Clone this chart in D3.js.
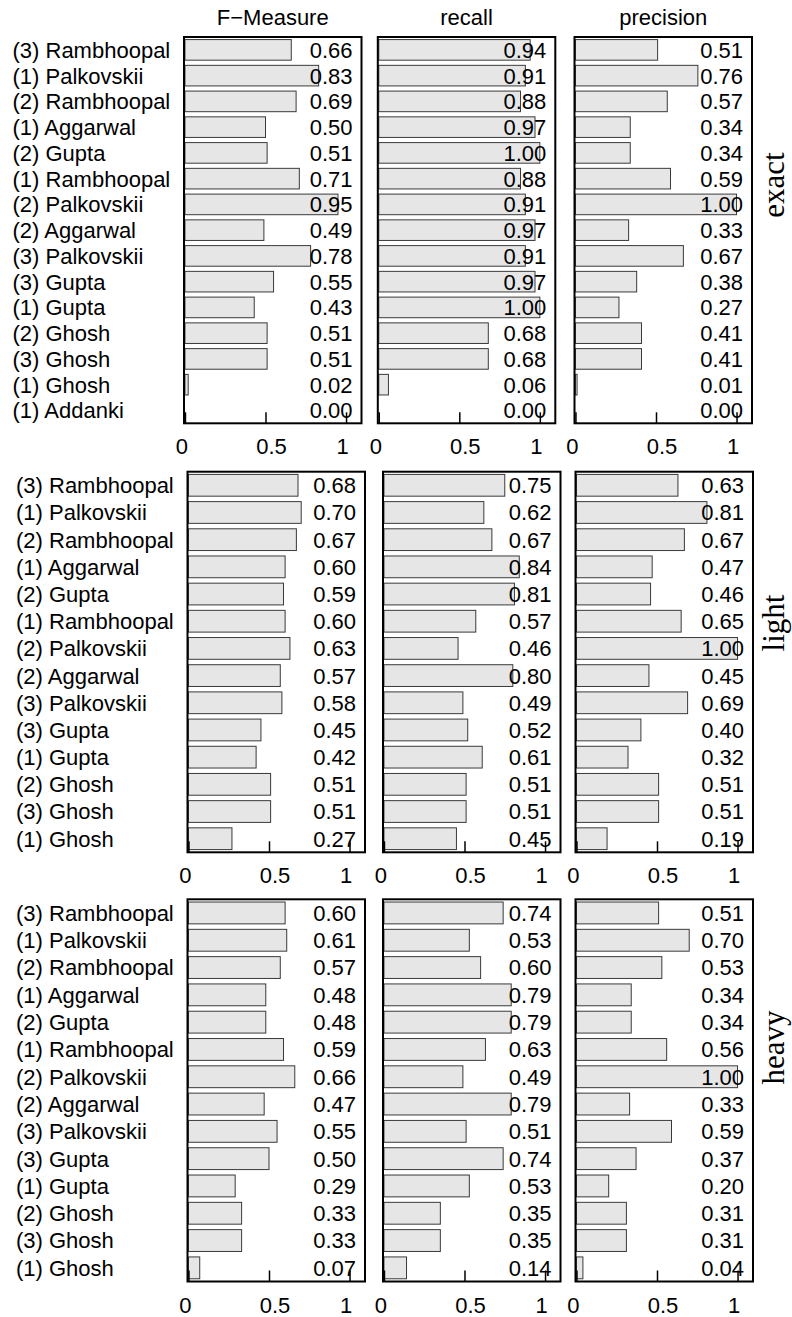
<!DOCTYPE html>
<html><head><meta charset="utf-8">
<script src="https://cdn.jsdelivr.net/npm/d3@7"></script>
<style>body{margin:0;background:#fff} svg{display:block}</style>
</head><body><svg id="chart" width="792" height="1317"></svg>
<script>
// ---------- data ----------
const measures = ["F\u2212Measure", "recall", "precision"];
const levels = ["exact", "light", "heavy"];

const catsExact = ["(3) Rambhoopal","(1) Palkovskii","(2) Rambhoopal","(1) Aggarwal","(2) Gupta",
  "(1) Rambhoopal","(2) Palkovskii","(2) Aggarwal","(3) Palkovskii","(3) Gupta","(1) Gupta",
  "(2) Ghosh","(3) Ghosh","(1) Ghosh","(1) Addanki"];
const catsOther = catsExact.slice(0, 14);

const exactF         = [0.66,0.83,0.69,0.50,0.51,0.71,0.95,0.49,0.78,0.55,0.43,0.51,0.51,0.02,0.00];
const exactRecall    = [0.94,0.91,0.88,0.97,1.00,0.88,0.91,0.97,0.91,0.97,1.00,0.68,0.68,0.06,0.00];
const exactPrecision = [0.51,0.76,0.57,0.34,0.34,0.59,1.00,0.33,0.67,0.38,0.27,0.41,0.41,0.01,0.00];

const lightF         = [0.68,0.70,0.67,0.60,0.59,0.60,0.63,0.57,0.58,0.45,0.42,0.51,0.51,0.27];
const lightRecall    = [0.75,0.62,0.67,0.84,0.81,0.57,0.46,0.80,0.49,0.52,0.61,0.51,0.51,0.45];
const lightPrecision = [0.63,0.81,0.67,0.47,0.46,0.65,1.00,0.45,0.69,0.40,0.32,0.51,0.51,0.19];

const heavyF         = [0.60,0.61,0.57,0.48,0.48,0.59,0.66,0.47,0.55,0.50,0.29,0.33,0.33,0.07];
const heavyRecall    = [0.74,0.53,0.60,0.79,0.79,0.63,0.49,0.79,0.51,0.74,0.53,0.35,0.35,0.14];
const heavyPrecision = [0.51,0.70,0.53,0.34,0.34,0.56,1.00,0.33,0.59,0.37,0.20,0.31,0.31,0.04];

const xTicks = [0, 0.5, 1];
const xTickLabels = ["0", "0.5", "1"];

// ---------- assemble ----------
const rowsData = [
  { level: levels[0], cats: catsExact, series: [exactF, exactRecall, exactPrecision] },
  { level: levels[1], cats: catsOther, series: [lightF, lightRecall, lightPrecision] },
  { level: levels[2], cats: catsOther, series: [heavyF, heavyRecall, heavyPrecision] }
];

// ---------- layout ----------
const FONT = "'Liberation Sans', Arial, Helvetica, sans-serif";
const FS = 22;
const panelW = 177.5;
const layout = [
  { top: 37,    bottom: 423.3,  lefts: [184, 377.8, 574.5], stripDy: -45 },
  { top: 471.7, bottom: 852.3,  lefts: [187.5, 383, 575.5], stripDy: -39 },
  { top: 899.3, bottom: 1281.5, lefts: [187.5, 383, 575.5], stripDy: -43 }
];
const labelNudge = { 0: -3.5, 0.5: 5.5, 1: -4 };

const svg = d3.select("#chart");

// column titles
measures.forEach((m, j) => {
  const L = layout[0];
  svg.append("text")
    .attr("x", L.lefts[j] + panelW / 2)
    .attr("y", 25)
    .attr("text-anchor", "middle")
    .attr("font-family", FONT).attr("font-size", FS)
    .text(m);
});

rowsData.forEach((row, i) => {
  const L = layout[i];
  const y = d3.scaleBand().domain(row.cats).range([L.top, L.bottom])
    .paddingInner(0.2).paddingOuter(0.1);

  // category labels
  svg.append("g").selectAll("text").data(row.cats).join("text")
    .attr("x", L.lefts[0] - 171.5)
    .attr("y", d => y(d) + y.bandwidth() / 2)
    .attr("dy", "0.36em")
    .attr("font-family", FONT).attr("font-size", FS)
    .text(d => d);

  row.series.forEach((vals, j) => {
    const x0 = L.lefts[j];
    const x = d3.scaleLinear().domain([-0.006, 1.096]).range([x0, x0 + panelW]);
    const data = row.cats.map((c, k) => ({ c, v: vals[k] }));
    const g = svg.append("g");

    g.selectAll("rect.bar").data(data.filter(d => d.v > 0)).join("rect")
      .attr("class", "bar")
      .attr("x", x(0))
      .attr("y", d => y(d.c))
      .attr("width", d => x(d.v) - x(0))
      .attr("height", y.bandwidth())
      .attr("fill", "#e6e6e6")
      .attr("stroke", "#3a3a3a")
      .attr("stroke-width", 1);

    g.selectAll("text.val").data(data).join("text")
      .attr("class", "val")
      .attr("x", x0 + panelW - 9)
      .attr("y", d => y(d.c) + y.bandwidth() / 2)
      .attr("dy", "0.36em")
      .attr("text-anchor", "end")
      .attr("font-family", FONT).attr("font-size", FS)
      .text(d => d.v.toFixed(2));

    // axis with inward ticks
    const axis = d3.axisBottom(x).tickValues(xTicks)
      .tickFormat((d, k) => xTickLabels[k])
      .tickSize(-11).tickPadding(15.5);
    const ag = g.append("g").attr("transform", `translate(0,${L.bottom})`).call(axis);
    ag.select(".domain").remove();
    ag.selectAll(".tick line").attr("stroke", "#000").attr("stroke-width", 1.5);
    ag.selectAll(".tick text")
      .attr("font-family", FONT).attr("font-size", FS).attr("fill", "#000")
      .attr("dx", d => labelNudge[d]);

    // panel border
    g.append("rect")
      .attr("x", x0).attr("y", L.top)
      .attr("width", panelW).attr("height", L.bottom - L.top)
      .attr("fill", "none").attr("stroke", "#000").attr("stroke-width", 2);
  });

  // strip label
  svg.append("text")
    .attr("transform", `translate(784,${(L.top + L.bottom) / 2 + L.stripDy}) rotate(-90)`)
    .attr("text-anchor", "middle")
    .attr("font-family", "'Liberation Serif', 'Times New Roman', serif")
    .attr("font-size", 31)
    .text(row.level);
});
</script></body></html>
